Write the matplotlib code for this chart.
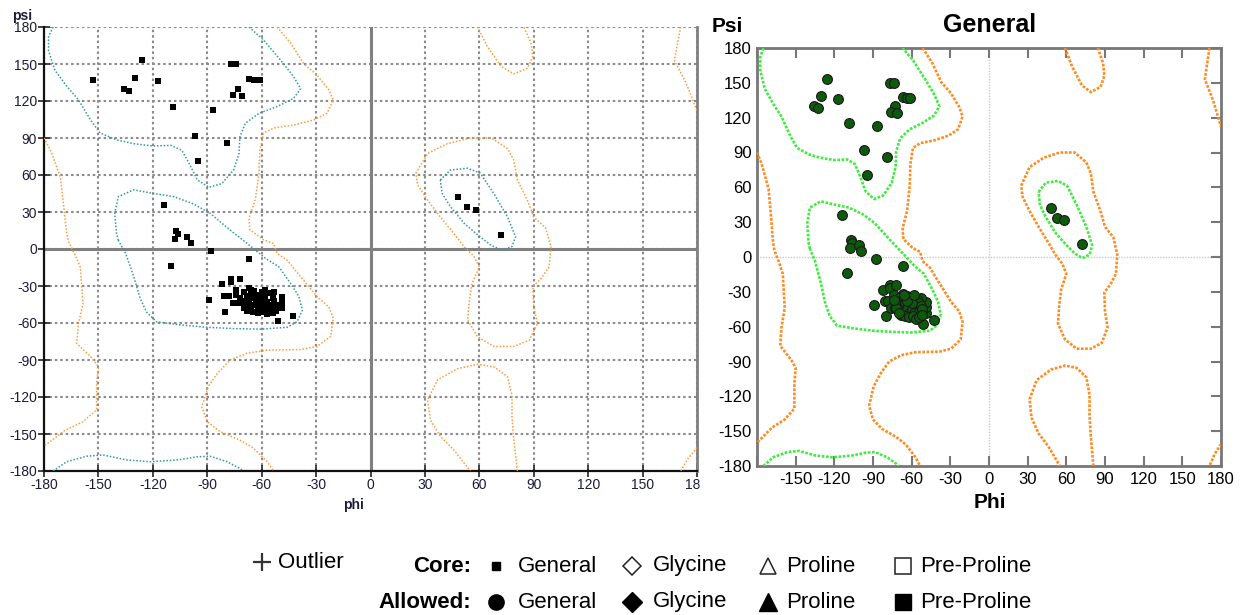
import numpy as np
import matplotlib.pyplot as plt
from matplotlib import font_manager
from matplotlib.patches import Rectangle

W, H = 1243, 615

# ===========================
# Residues (phi, psi)
# ===========================
beta_phi = [-126, -130, -136, -133, -117, -109, -97, -95, -87, -79,
            -77, -74, -73, -76, -71, -67, -64, -61]
beta_psi = [153, 139, 130, 128, 136, 115, 92, 71, 113, 86,
            150, 150, 130, 125, 124, 138, 137, 137]

alpha_phi = [-114, -107, -106, -108, -101, -99, -88, -67, -110,
             -89, -80, -82, -81, -77, -77, -72, -43, -51, -49, -49, -49, -53,
             -78, -76, -73, -74, -67,
             -70, -68, -66, -64, -62, -60, -58, -56, -54,
             -72, -70, -67, -65, -63, -61, -59, -57, -55, -53,
             -69, -66, -64, -62, -60, -58, -56, -54, -52,
             -68, -65, -62, -59, -57, -54,
             -60, -64, -72, -74, -66, -58, -52, -70]
alpha_psi = [36, 15, 12, 8, 10, 5, -2, -8, -14,
             -41, -51, -28, -38, -24, -27, -24, -54, -58, -48, -43, -39, -35,
             -38, -44, -44, -33, -32,
             -35, -38, -36, -34, -37, -35, -38, -36, -40,
             -40, -42, -43, -40, -42, -44, -41, -43, -45, -42,
             -46, -47, -45, -48, -46, -48, -50, -47, -45,
             -50, -51, -52, -51, -53, -52,
             -40, -38, -44, -37, -33, -33, -50, -48]

left_phi = [48, 53, 58, 72]
left_psi = [42, 34, 32, 11]

# only in the left plot
extra_phi = [-153]
extra_psi = [137]

# ===========================
# Region contours (phi, psi)
# ===========================
core_beta = [(-175, 180), (-177.5, 172), (-177.5, 161), (-174, 145), (-167.5, 132),
             (-161, 121), (-154.5, 105), (-149, 94), (-140, 88.5), (-131, 85.5),
             (-120, 83.5), (-110, 84), (-104, 80), (-100, 69.5), (-95.5, 56),
             (-89, 50), (-82, 53), (-75.5, 64), (-72.5, 77.5), (-72, 91),
             (-69, 102), (-61.5, 110), (-51.5, 115.5), (-42.5, 122), (-38.5, 130),
             (-42.5, 140), (-49.5, 153), (-59, 169.5), (-67, 180)]
core_beta_wrap = [(-175, -180), (-167.5, -172.5), (-156.5, -168), (-147.5, -167),
                  (-134.5, -171), (-121.5, -172.5), (-106.5, -171), (-95.5, -168.5),
                  (-88.5, -168), (-79, -172.5), (-72, -178), (-70, -180)]
core_alpha = [(-139, 7), (-140, 12.5), (-141, 29), (-139, 42.5), (-130.5, 48),
              (-121.5, 45.5), (-108.5, 42.5), (-97.5, 36.5), (-88.5, 29),
              (-77.5, 15.5), (-68, 4.5), (-58, -7.5), (-50.5, -14.5), (-44, -28),
              (-39.5, -38.5), (-37.5, -49.5), (-40.5, -59), (-46, -63.5),
              (-60.5, -65), (-75.5, -64.5), (-90, -63.5), (-105, -61.5),
              (-118, -59), (-123.5, -51), (-127, -40), (-130.5, -22.5),
              (-135, -3.5), (-139, 7)]
core_left = [(38.5, 56), (44, 64), (53.5, 65.5), (60.5, 61.5), (68, 45), (75.5, 26),
             (80, 10), (78, 2), (72.5, -1), (66.5, 3), (59, 11.5), (51.5, 21),
             (44, 34.5), (39.5, 45), (38.5, 56)]

allowed_main = [(-51.5, 180), (-44, 167), (-37, 150.5), (-29.5, 141), (-23, 129),
                (-20.5, 121), (-24, 110), (-31.5, 104.5), (-42.5, 100.5),
                (-53.5, 98), (-59, 94), (-61, 80), (-61.5, 61.5), (-63.5, 40),
                (-67, 25), (-66.5, 15.5), (-59, 7.5), (-53.5, 4.5), (-51.5, -3.5),
                (-46, -9), (-38.5, -22.5), (-29.5, -38.5), (-23, -47), (-20.5, -56),
                (-22, -71), (-29.5, -79), (-38.5, -81.5), (-57, -82), (-68, -84.5),
                (-77.5, -90), (-84.5, -101), (-89.5, -111.5), (-93, -128),
                (-90, -140), (-83, -148), (-72, -155), (-64.5, -161.5),
                (-57, -172.5), (-53.5, -180)]
allowed_strip = [(-180, 90), (-176.5, 80.5), (-171, 58.5), (-169.5, 39.5),
                 (-167.5, 12.5), (-166.5, 6), (-162, -7.5), (-160, -14.5),
                 (-158.5, -44), (-161, -60.5), (-162, -76.5), (-153.5, -88.5),
                 (-150, -95.5), (-151, -109), (-151, -130.5), (-158.5, -140),
                 (-168.5, -147), (-180, -160)]
allowed_edge_top = [(171, 180), (167.5, 153), (174, 134.5), (180, 112)]
allowed_edge_bot = [(180, -161), (175, -170), (171, -180)]
allowed_left = [(25, 61.5), (31.5, 77.5), (42.5, 85.5), (55, 90), (66.5, 90),
                (75.5, 81.5), (79, 72), (81, 56), (86.5, 39.5), (90, 26),
                (96.5, 17), (99.5, 2), (98.5, -14.5), (94, -24), (89.5, -30.5),
                (90, -47), (92, -60.5), (87.5, -74), (79, -79), (68, -79),
                (59, -71), (53.5, -57.5), (54.5, -41.5), (56, -28), (60, -14.5),
                (57, -6), (51.5, 2), (46, 12.5), (38.5, 26), (31.5, 39.5),
                (26, 52), (25, 61.5)]
allowed_top = [(59, 180), (64.5, 164), (72, 148), (79, 142), (86.5, 146.5),
               (89.5, 156), (88.5, 167), (84.5, 180)]
allowed_bot = [(81, -180), (79, -155), (78, -136), (78, -118.5), (75.5, -103.5),
               (68, -95.5), (59, -93.5), (48, -97), (37, -106), (31.5, -122.5),
               (33, -138.5), (38.5, -152), (46, -163), (55, -180)]

core_paths = [core_beta, core_beta_wrap, core_alpha, core_left]
allowed_paths = [allowed_main, allowed_strip, allowed_edge_top, allowed_edge_bot,
                 allowed_left, allowed_top, allowed_bot]

ticks = list(range(-180, 181, 30))


def px_axes(fig, x0, y0, x1, y1):
    return fig.add_axes([x0 / W, 1 - y1 / H, (x1 - x0) / W, (y1 - y0) / H])


def draw_regions(ax, core_color, allowed_color, lw, ls):
    for path in allowed_paths:
        p = np.array(path)
        ax.plot(p[:, 0], p[:, 1], color=allowed_color, lw=lw, ls=ls, zorder=3)
    for path in core_paths:
        p = np.array(path)
        ax.plot(p[:, 0], p[:, 1], color=core_color, lw=lw, ls=ls, zorder=3)


plt.rcParams['font.family'] = ['Liberation Sans', 'DejaVu Sans']
plt.rcParams['axes.unicode_minus'] = False
fig = plt.figure(figsize=(W / 100, H / 100), dpi=100)

# ===========================
# Left plot
# ===========================
ax_l = px_axes(fig, 44, 27, 697, 471)
ax_l.set_xlim(-180, 180)
ax_l.set_ylim(-180, 180)
ax_l.set_xticks(ticks)
ax_l.set_yticks(ticks)
ax_l.grid(True, color='#8a8a8a', lw=1.5, ls=(0, (1.2, 1.4)))
ax_l.axhline(0, color='#808080', lw=2.2, zorder=2)
ax_l.axvline(0, color='#808080', lw=2.2, zorder=2)
ax_l.tick_params(direction='inout', length=8, width=1.2, color='#222222',
                 labelsize=10, labelcolor='#1c1c38', pad=1, top=False, right=False)
for side in ['left', 'bottom']:
    ax_l.spines[side].set_color('#111111')
    ax_l.spines[side].set_linewidth(1.6)
ax_l.spines['top'].set_visible(False)
ax_l.spines['right'].set_color('#808080')
ax_l.spines['right'].set_linewidth(2)
draw_regions(ax_l, '#2f9a98', '#ff9a3c', 1.1, (0, (1, 1.2)))
ax_l.scatter(beta_phi + alpha_phi + left_phi + extra_phi,
             beta_psi + alpha_psi + left_psi + extra_psi,
             marker='s', s=14, color='black', zorder=5, linewidths=0)
fig.text(22 / W, 1 - 16 / H, 'psi', fontsize=10, fontweight='bold',
         color='#1c1c38', ha='center', va='center')
fig.text(353 / W, 1 - 505 / H, 'phi', fontsize=10, fontweight='bold',
         color='#1c1c38', ha='center', va='center')

# white strip that the right picture lays over the left one
fig.patches.append(Rectangle((700 / W, 1 - 495 / H), (W - 700) / W, 30 / H,
                             transform=fig.transFigure, color='white', zorder=1))

# ===========================
# Right plot
# ===========================
ax_r = px_axes(fig, 757, 48, 1221, 466)
ax_r.set_zorder(2)
ax_r.set_xlim(-180, 180)
ax_r.set_ylim(-180, 180)
ax_r.set_xticks(ticks)
ax_r.set_xticklabels([''] + [str(t) for t in ticks[1:]])
ax_r.set_yticks(ticks)
ax_r.axhline(0, color='#c8c8c8', lw=1, ls=(0, (1, 1)), zorder=1)
ax_r.axvline(0, color='#c8c8c8', lw=1, ls=(0, (1, 1)), zorder=1)
ax_r.tick_params(direction='in', length=7, width=1.5, color='#777777',
                 labelsize=12, labelcolor='black', top=True, right=True,
                 left=False, pad=4)
for side in ax_r.spines.values():
    side.set_color('#777777')
    side.set_linewidth(2)
draw_regions(ax_r, '#3ded3d', '#ff8a1e', 1.9, (0, (1, 0.6)))
ax_r.scatter(beta_phi + alpha_phi + left_phi, beta_psi + alpha_psi + left_psi,
             marker='o', s=50, facecolor='#0d5a0d', edgecolor='#1a1a1a',
             linewidths=0.8, zorder=5)
fig.text(990 / W, 1 - 25 / H, 'General', fontsize=18, fontweight='bold',
         ha='center', va='center')
fig.text(727 / W, 1 - 26 / H, 'Psi', fontsize=15, fontweight='bold',
         ha='center', va='center')
fig.text(990 / W, 1 - 502 / H, 'Phi', fontsize=15, fontweight='bold',
         ha='center', va='center')

# ===========================
# Legend
# ===========================
names = [f.name for f in font_manager.fontManager.ttflist]
if 'Liberation Sans Narrow' in names:
    leg_font, leg_size = 'Liberation Sans Narrow', 19
else:
    leg_font, leg_size = 'Liberation Sans', 16

ax_leg = fig.add_axes([0, 0, 1, 1])
ax_leg.set_zorder(3)
ax_leg.set_xlim(0, W)
ax_leg.set_ylim(H, 0)
ax_leg.axis('off')

row1, row2 = 566, 602
ax_leg.plot(262, 562, marker='+', ms=13, mew=1.6, color='#333333')
ax_leg.text(278, 562, 'Outlier', family=leg_font, fontsize=leg_size, va='center')
ax_leg.text(471, row1, 'Core:', family=leg_font, fontsize=leg_size,
            fontweight='bold', ha='right', va='center')
ax_leg.text(471, row2, 'Allowed:', family=leg_font, fontsize=leg_size,
            fontweight='bold', ha='right', va='center')

kinds = ['General', 'Glycine', 'Proline', 'Pre-Proline']
mark_x = [496, 632, 768, 903]
text_x = [518, 653, 786, 920]
core_marks = [('s', 6), ('D', 9), ('^', 12), ('s', 11)]
allowed_marks = [('o', 11), ('D', 10), ('^', 13), ('s', 11)]
for k in range(4):
    m, ms = core_marks[k]
    if k == 0:
        ax_leg.plot(mark_x[k], row1, marker=m, ms=ms, color='black')
    else:
        ax_leg.plot(mark_x[k], row1, marker=m, ms=ms, mfc='white', mec='#222222', mew=1.1)
    m, ms = allowed_marks[k]
    ax_leg.plot(mark_x[k], row2, marker=m, ms=ms, color='black')
    ax_leg.text(text_x[k], row1, kinds[k], family=leg_font, fontsize=leg_size, va='center')
    ax_leg.text(text_x[k], row2, kinds[k], family=leg_font, fontsize=leg_size, va='center')

fig.savefig('out.png', dpi=100, facecolor='white')
